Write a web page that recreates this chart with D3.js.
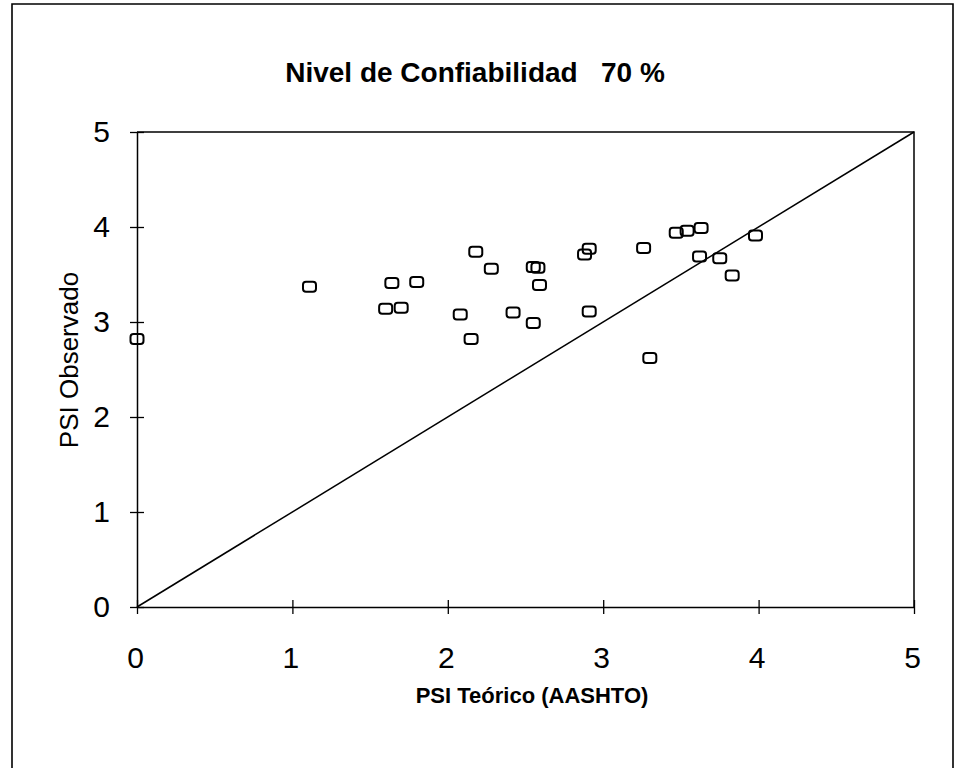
<!DOCTYPE html>
<html>
<head>
<meta charset="utf-8">
<script src="https://cdn.jsdelivr.net/npm/d3@7"></script>
<style>
  html, body { margin: 0; padding: 0; background: #fff; }
  svg { display: block; }
  text { font-family: "Liberation Sans", Arial, Helvetica, sans-serif; fill: #000; }
</style>
</head>
<body>
<svg id="chart" width="956" height="768"></svg>
<script>
// ---- data ----
const chartTitle = "Nivel de Confiabilidad   70 %";
const xTitle = "PSI Teórico (AASHTO)";
const yTitle = "PSI Observado";
const xTicks = [0, 1, 2, 3, 4, 5];
const yTicks = [0, 1, 2, 3, 4, 5];
const psiTeorico = [0.00, 1.11, 1.60, 1.70, 1.64, 1.80, 2.08, 2.15, 2.18, 2.28, 2.42, 2.55, 2.55, 2.58, 2.59,
                    2.88, 2.91, 2.91, 3.26, 3.30, 3.47, 3.54, 3.63, 3.62, 3.75, 3.83, 3.98];
const psiObservado = [2.82, 3.37, 3.14, 3.15, 3.41, 3.42, 3.08, 2.82, 3.74, 3.56, 3.10, 2.99, 3.58, 3.57, 3.39,
                      3.71, 3.77, 3.11, 3.78, 2.62, 3.94, 3.96, 3.99, 3.69, 3.67, 3.49, 3.91];
const lineaIgualdad = [[0, 0], [5, 5]];

// ---- layout ----
const svg = d3.select("#chart");
const pLeft = 137, pRight = 914, pTop = 132, pBottom = 607;

const x = d3.scaleLinear().domain([0, 5]).range([pLeft, pRight]);
const y = d3.scaleLinear().domain([0, 5]).range([pBottom, pTop]);

// outer frame
svg.append("path")
  .attr("d", "M12,790 L12,4 L953,4 L953,790")
  .attr("fill", "none").attr("stroke", "#000").attr("stroke-width", 1.6);

// plot frame (top & right)
svg.append("path")
  .attr("d", `M${pLeft},${pTop} L${pRight},${pTop} L${pRight},${pBottom}`)
  .attr("fill", "none").attr("stroke", "#000").attr("stroke-width", 1.5);

// x axis
const gx = svg.append("g").attr("transform", `translate(0,${pBottom})`)
  .call(d3.axisBottom(x).tickValues(xTicks).tickFormat(d3.format("d")).tickSizeInner(7).tickSizeOuter(0).tickPadding(33));
gx.select(".domain").attr("stroke", "#000").attr("stroke-width", 1.5);
gx.selectAll(".tick line").attr("y1", -7).attr("y2", 7).attr("stroke", "#000").attr("stroke-width", 1.3);
gx.selectAll(".tick text").attr("font-size", 30).attr("font-family", null).attr("dx", -2);

// y axis
const gy = svg.append("g").attr("transform", `translate(${pLeft},0)`)
  .call(d3.axisLeft(y).tickValues(yTicks).tickFormat(d3.format("d")).tickSizeInner(7).tickSizeOuter(0).tickPadding(20));
gy.select(".domain").attr("stroke", "#000").attr("stroke-width", 1.5);
gy.selectAll(".tick line").attr("x1", -7).attr("x2", 7).attr("stroke", "#000").attr("stroke-width", 1.3);
gy.selectAll(".tick text").attr("font-size", 30).attr("font-family", null).attr("dy", "0.32em");
svg.selectAll(".tick text").style("font-family", '"Liberation Sans", Arial, sans-serif');

// 1:1 line
svg.append("path")
  .datum(lineaIgualdad)
  .attr("d", d3.line().x(d => x(d[0])).y(d => y(d[1])))
  .attr("fill", "none").attr("stroke", "#000").attr("stroke-width", 1.5);

// points
const pts = psiTeorico.map((v, i) => ({ x: v, y: psiObservado[i] }));
svg.append("g").selectAll("rect").data(pts).join("rect")
  .attr("x", d => x(d.x) - 6.5)
  .attr("y", d => y(d.y) - 5)
  .attr("width", 13).attr("height", 10).attr("rx", 3)
  .attr("fill", "none").attr("stroke", "#000").attr("stroke-width", 2);

// titles
svg.append("text").attr("x", 475).attr("y", 82).attr("text-anchor", "middle")
  .attr("font-size", 28).attr("font-weight", "bold").style("white-space", "pre")
  .text(chartTitle);

svg.append("text").attr("x", 532).attr("y", 703).attr("text-anchor", "middle")
  .attr("font-size", 22).attr("font-weight", "bold").text(xTitle);

svg.append("text").attr("transform", "translate(78,360) rotate(-90)").attr("text-anchor", "middle")
  .attr("font-size", 26).text(yTitle);
</script>
</body>
</html>
